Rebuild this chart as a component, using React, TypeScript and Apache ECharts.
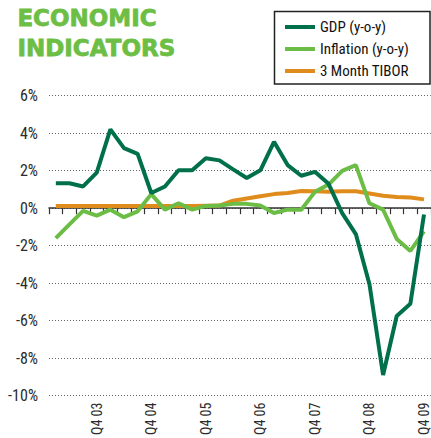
import React, { useEffect, useRef } from "react";
import * as echarts from "echarts";

const categories = [
  "Q1 03", "Q2 03", "Q3 03", "Q4 03",
  "Q1 04", "Q2 04", "Q3 04", "Q4 04",
  "Q1 05", "Q2 05", "Q3 05", "Q4 05",
  "Q1 06", "Q2 06", "Q3 06", "Q4 06",
  "Q1 07", "Q2 07", "Q3 07", "Q4 07",
  "Q1 08", "Q2 08", "Q3 08", "Q4 08",
  "Q1 09", "Q2 09", "Q3 09", "Q4 09",
];

const gdp = [1.33, 1.33, 1.16, 1.9, 4.2, 3.2, 2.9, 0.81, 1.16, 2.02, 2.02, 2.66, 2.55, 2.07, 1.61, 2.02, 3.54, 2.3, 1.73, 1.94, 1.3, -0.26, -1.38, -4.06, -8.9, -5.75, -5.1, -0.34];
const inflation = [-1.6, -0.86, -0.14, -0.4, -0.08, -0.48, -0.17, 0.75, -0.08, 0.26, -0.08, 0.12, 0.14, 0.23, 0.23, 0.14, -0.26, -0.08, -0.08, 0.87, 1.26, 1.99, 2.3, 0.26, -0.08, -1.64, -2.28, -1.24];
const tibor = [0.12, 0.12, 0.12, 0.12, 0.12, 0.12, 0.12, 0.12, 0.12, 0.12, 0.12, 0.13, 0.14, 0.4, 0.52, 0.64, 0.75, 0.81, 0.92, 0.9, 0.87, 0.9, 0.9, 0.78, 0.66, 0.6, 0.57, 0.47];

const seriesNames = ["GDP (y-o-y)", "Inflation (y-o-y)", "3 Month TIBOR"];
const titleLines = ["ECONOMIC", "INDICATORS"];

const C_GDP = "#00704a";
const C_INF = "#6cbd45";
const C_TIB = "#e08c1c";
const C_TITLE = "#6dbe45";
const NARROW = "'Roboto Condensed', 'DejaVu Sans Condensed', sans-serif";

export default function App() {
  const ref = useRef<HTMLDivElement>(null);
  useEffect(() => {
    if (!ref.current) return;
    const chart = echarts.init(ref.current, undefined, { renderer: "svg" });
    chart.setOption({
      animation: false,
      backgroundColor: "#ffffff",
      grid: { left: 49, top: 95.7, width: 382, height: 309, containLabel: false },
      graphic: [
        {
          type: "text",
          left: 17,
          top: 6,
          style: { text: titleLines[0], font: "bold 23px 'DejaVu Sans'", fill: C_TITLE, stroke: C_TITLE, lineWidth: 0.8 },
        },
        {
          type: "text",
          left: 17,
          top: 36.5,
          style: { text: titleLines[1], font: "bold 23px 'DejaVu Sans'", fill: C_TITLE, stroke: C_TITLE, lineWidth: 0.8 },
        },
        {
          type: "rect",
          shape: { x: 274.5, y: 11.5, width: 155.5, height: 72.5 },
          style: { fill: "none", stroke: "#222", lineWidth: 1.5 },
          z: 10,
        },
      ],
      legend: {
        orient: "vertical",
        left: 285,
        top: 19.5,
        padding: 0,
        itemWidth: 30,
        itemHeight: 4,
        itemGap: 7,
        icon: "rect",
        data: seriesNames,
        textStyle: { fontFamily: NARROW, fontSize: 15, color: "#111", lineHeight: 15 },
      },
      xAxis: [
        {
          type: "category",
          data: categories,
          boundaryGap: true,
          position: "bottom",
          axisLine: { show: false, onZero: false },
          axisTick: { show: false },
          splitLine: { show: false },
          axisLabel: {
            rotate: 90,
            margin: 7,
            interval: (idx: number) => idx % 4 === 3,
            fontFamily: NARROW,
            fontSize: 14,
            color: "#2b2b2b",
          },
        },
        {
          type: "category",
          data: categories,
          boundaryGap: true,
          position: "bottom",
          axisLine: { show: true, onZero: true, lineStyle: { color: "#333", width: 1.5 } },
          axisTick: { show: true, length: 6, interval: 0, lineStyle: { color: "#333", width: 1.2 } },
          axisLabel: { show: false },
          splitLine: { show: false },
        },
      ],
      yAxis: {
        type: "value",
        min: -10,
        max: 6,
        interval: 2,
        axisLine: { show: false },
        axisTick: { show: false },
        axisLabel: {
          formatter: (v: number) => `${v}%`,
          margin: 11,
          fontFamily: NARROW,
          fontSize: 16,
          color: "#2b2b2b",
        },
        splitLine: { show: true, lineStyle: { color: "#666", width: 1, type: [1, 2] } },
      },
      series: [
        {
          name: seriesNames[0],
          type: "line",
          data: gdp,
          xAxisIndex: 0,
          symbol: "none",
          z: 5,
          lineStyle: { color: C_GDP, width: 4 },
          itemStyle: { color: C_GDP },
        },
        {
          name: seriesNames[1],
          type: "line",
          data: inflation,
          xAxisIndex: 0,
          symbol: "none",
          z: 4,
          lineStyle: { color: C_INF, width: 4 },
          itemStyle: { color: C_INF },
        },
        {
          name: seriesNames[2],
          type: "line",
          data: tibor,
          xAxisIndex: 0,
          symbol: "none",
          z: 3,
          lineStyle: { color: C_TIB, width: 4 },
          itemStyle: { color: C_TIB },
        },
      ],
    });
    return () => chart.dispose();
  }, []);
  return (
    <div
      ref={ref}
      style={{ position: "fixed", left: 0, top: 0, width: 431, height: 438, background: "#fff" }}
    />
  );
}
